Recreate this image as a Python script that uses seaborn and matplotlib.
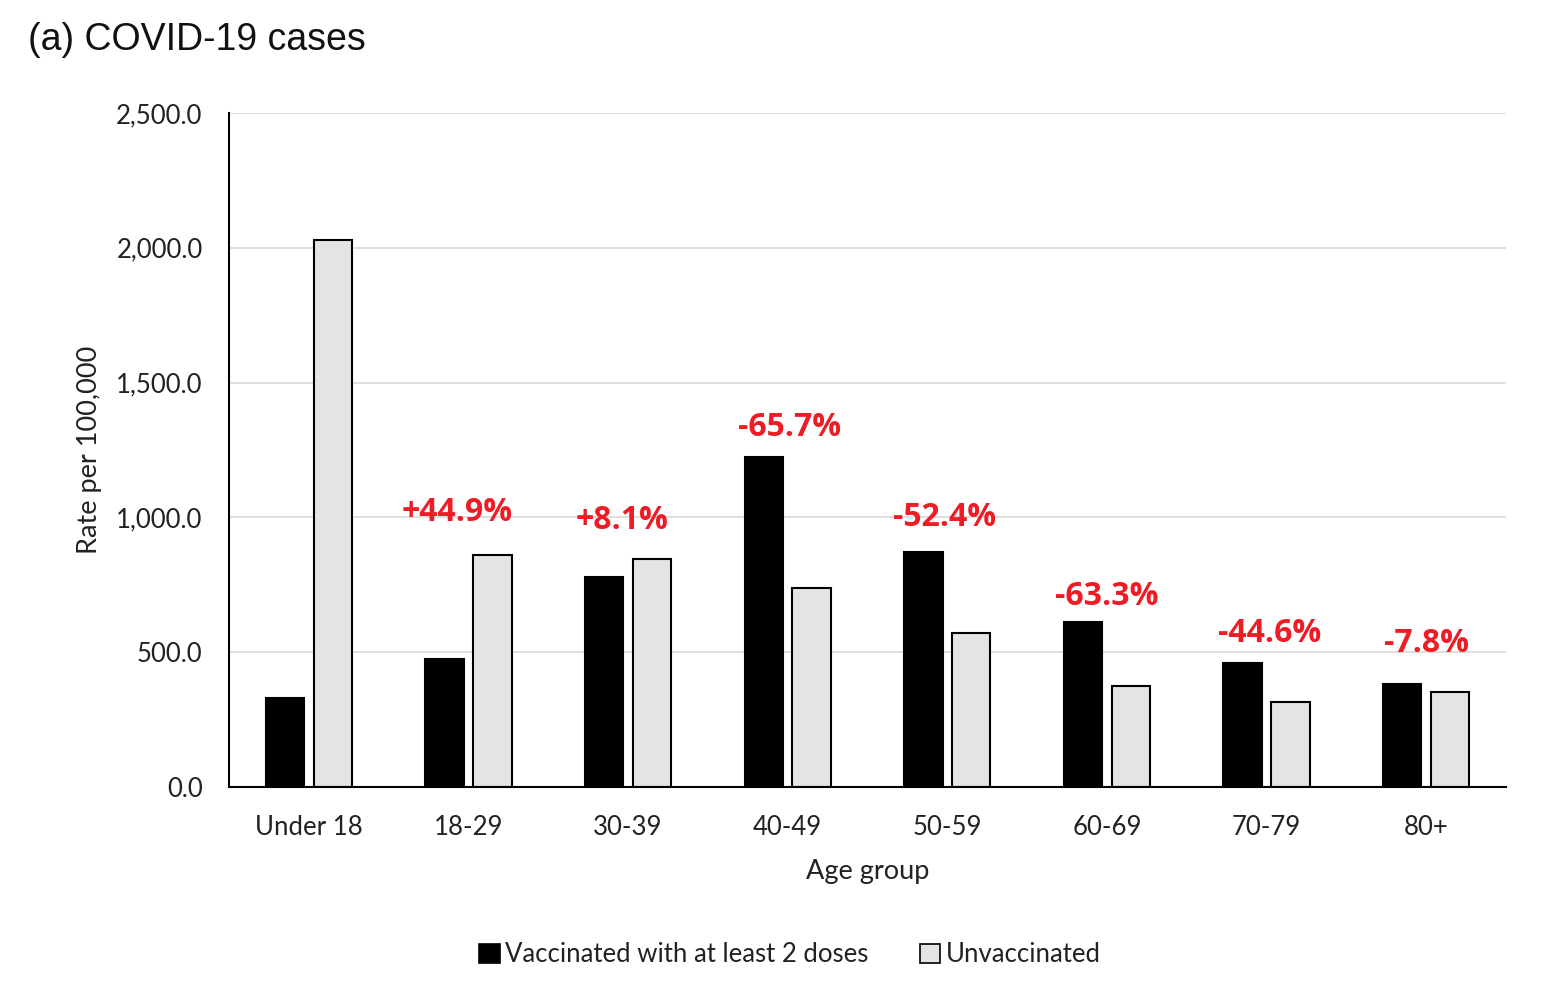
import pandas as pd
import numpy as np
import matplotlib
matplotlib.use('Agg')
import matplotlib.pyplot as plt
import seaborn as sns
from matplotlib.ticker import FuncFormatter, FixedLocator
from matplotlib.patches import Patch

age_groups = ['Under 18', '18-29', '30-39', '40-49', '50-59', '60-69', '70-79', '80+']
vaccinated = [330, 475, 779, 1224, 872, 612, 460, 382]
unvaccinated = [2029, 860, 846, 738, 571, 375, 315, 352]
pct_labels = ['', '+44.9%', '+8.1%', '-65.7%', '-52.4%', '-63.3%', '-44.6%', '-7.8%']
# where each red label sits (category offset, data units)
label_dx = [0, -0.07, -0.04, 0.01, -0.02, 0.0, 0.02, 0.0]
label_y = [0, 1020, 990, 1335, 1001, 705, 571, 534]

series_vacc = 'Vaccinated with at least 2 doses'
series_unvacc = 'Unvaccinated'

df = pd.DataFrame({
  'Age group': age_groups * 2,
  'Rate': vaccinated + unvaccinated,
  'Status': [series_vacc] * len(age_groups) + [series_unvacc] * len(age_groups),
})

sns.set_style('white')
plt.rcParams['font.family'] = ['Lato', 'DejaVu Sans']

fig = plt.figure(figsize=(15.5, 9.82), dpi=100)
ax = fig.add_axes([229/1550, 1 - 787/982, (1506-229)/1550, (787-113)/982])

sns.barplot(data=df, x='Age group', y='Rate', hue='Status',
            palette={series_vacc: '#000000', series_unvacc: '#e4e4e4'},
            width=0.6, gap=0.2, edgecolor='black', linewidth=1.5,
            ax=ax, legend=False)

ax.set_ylim(0, 2500)
ax.set_xlim(-0.5, len(age_groups) - 0.5)
ax.set_yticks(np.arange(0, 2501, 500))
ax.yaxis.set_major_formatter(FuncFormatter(lambda v, p: f'{v:,.1f}'))
ax.yaxis.grid(True, color='#d9d9d9', linewidth=1.2)
ax.set_axisbelow(True)

ax.xaxis.set_minor_locator(FixedLocator(np.arange(-0.5, len(age_groups), 1.0)))
ax.tick_params(axis='x', which='major', length=0, pad=20, labelsize=18.5, colors='#222222')
ax.tick_params(axis='x', which='minor', length=8, width=1.5, direction='out', color='black')
ax.tick_params(axis='y', which='major', length=7, width=1.5, direction='out', color='black',
               labelsize=18.5, labelcolor='#222222', pad=12)

for side in ['top', 'right']:
  ax.spines[side].set_visible(False)
for side in ['left', 'bottom']:
  ax.spines[side].set_color('black')
  ax.spines[side].set_linewidth(1.5)

ax.set_xlabel('Age group', fontsize=19.5, color='#222222', labelpad=14)
ax.set_ylabel('Rate per 100,000', fontsize=19.5, color='#222222', labelpad=10)

for i, lab in enumerate(pct_labels):
  if lab:
    ax.text(i + label_dx[i], label_y[i], lab, ha='center', va='center', color='#ee1c25',
            fontsize=23, fontweight='bold', family=['Open Sans', 'DejaVu Sans'])

fig.text(28/1550, 1 - 40/982, '(a) COVID-19 cases', ha='left', va='center',
         fontsize=27, family=['Liberation Sans', 'DejaVu Sans'], color='#111111')

handles = [Patch(facecolor='#000000', edgecolor='black', linewidth=1.2, label=series_vacc),
           Patch(facecolor='#e4e4e4', edgecolor='black', linewidth=1.2, label=series_unvacc)]
fig.legend(handles=handles, loc='center', bbox_to_anchor=(790/1550, 1 - 955/982), ncol=2,
           frameon=False, fontsize=18.5, handlelength=0.8, handleheight=0.8, handletextpad=0.2,
           columnspacing=2.0, labelcolor='#222222')

fig.savefig('out.png', dpi=100)
